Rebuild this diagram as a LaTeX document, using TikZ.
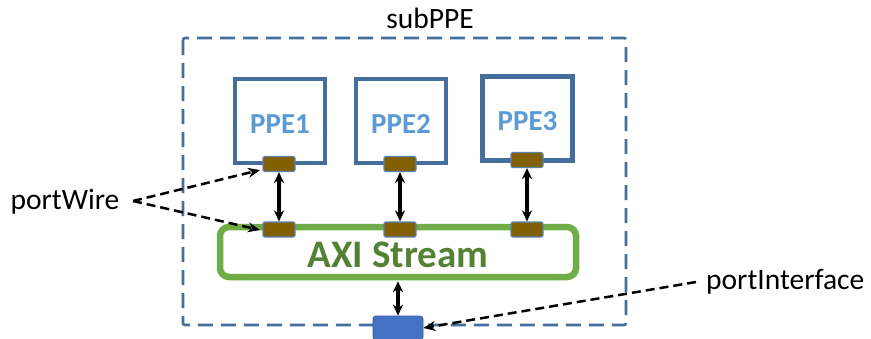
\documentclass[tikz,border=0pt]{standalone}
\usepackage{fontspec}
\setmainfont{Carlito}
\usetikzlibrary{arrows.meta}
\definecolor{boxblue}{RGB}{68,110,155}
\definecolor{ppetext}{RGB}{91,155,213}
\definecolor{portbrown}{RGB}{128,96,0}
\definecolor{portedge}{RGB}{90,130,180}
\definecolor{axigreen}{RGB}{112,173,71}
\definecolor{axitext}{RGB}{84,130,53}
\definecolor{ifblue}{RGB}{68,114,196}
\tikzset{
  ppebox/.style={draw=boxblue,line width=4.5pt,fill=white,minimum width=90pt,minimum height=84pt,inner sep=0pt},
  ppelabel/.style={text=ppetext,font=\fontsize{29}{31}\selectfont\bfseries},
  portbox/.style={draw=portedge,line width=1.2pt,fill=portbrown,rounded corners=2pt,minimum width=32pt,minimum height=15pt,inner sep=0pt},
  dbl/.style={line width=3.4pt,{Stealth[length=11pt,width=10pt]}-{Stealth[length=11pt,width=10pt]}},
  callout/.style={line width=2.5pt,dash pattern=on 9pt off 5pt,-{Stealth[length=12pt,width=10pt]}},
  lbl/.style={font=\fontsize{29.5}{31}\selectfont,text=black,inner sep=0pt}
}
\begin{document}
\begin{tikzpicture}[x=1pt,y=-1pt]
\useasboundingbox (0,0) rectangle (871,338);
% outer dashed box
\draw[boxblue,line width=2.6pt,dash pattern=on 15pt off 8pt,rounded corners=2pt] (183,38) rectangle (626,325);
\node[lbl] (sub) at (430,18) {subPPE};
% PPE boxes
\node[ppebox] (ppe1) at (280,121) {};
\node[ppebox] (ppe2) at (401,121) {};
\node[ppebox] (ppe3) at (527.5,118.5) {};
\node[ppelabel] at (280,124) {PPE1};
\node[ppelabel] at (401,124) {PPE2};
\node[ppelabel] at (527.5,121) {PPE3};
% AXI
\node[draw=axigreen,line width=6.5pt,rounded corners=9pt,minimum width=356pt,minimum height=50pt,inner sep=0pt,fill=white] (axi) at (398,252) {};
\node[text=axitext,font=\fontsize{39}{41}\selectfont\bfseries] at (398,255) {AXI Stream};
% ports
\node[portbox] (p1t) at (279,164) {};
\node[portbox] (p2t) at (400,164) {};
\node[portbox] (p3t) at (527,160) {};
\node[portbox] (p1b) at (279,229.5) {};
\node[portbox] (p2b) at (400,229.5) {};
\node[portbox] (p3b) at (527,229.5) {};
\node[draw=ifblue!80!black,line width=0.8pt,fill=ifblue,rounded corners=3pt,minimum width=50pt,minimum height=24pt,inner sep=0pt] (pif) at (398,328) {};
% arrows
\draw[dbl] (p1t.south) -- (p1b.north);
\draw[dbl] (p2t.south) -- (p2b.north);
\draw[dbl] (p3t.south) -- (p3b.north);
\draw[dbl] (axi.south) ++(0,1) -- (pif.north);
% labels
\node[lbl] (pw) at (65,202) {portWire};
\node[lbl,anchor=west] (pi) at (706,282) {portInterface};
\coordinate (pws) at (133,201);
\draw[callout] (pws) -- (260,170);
\draw[callout] (pws) -- (260,230);
\draw[callout] (pi.west) ++(-10,0) -- (pif.east);
\end{tikzpicture}
\end{document}
